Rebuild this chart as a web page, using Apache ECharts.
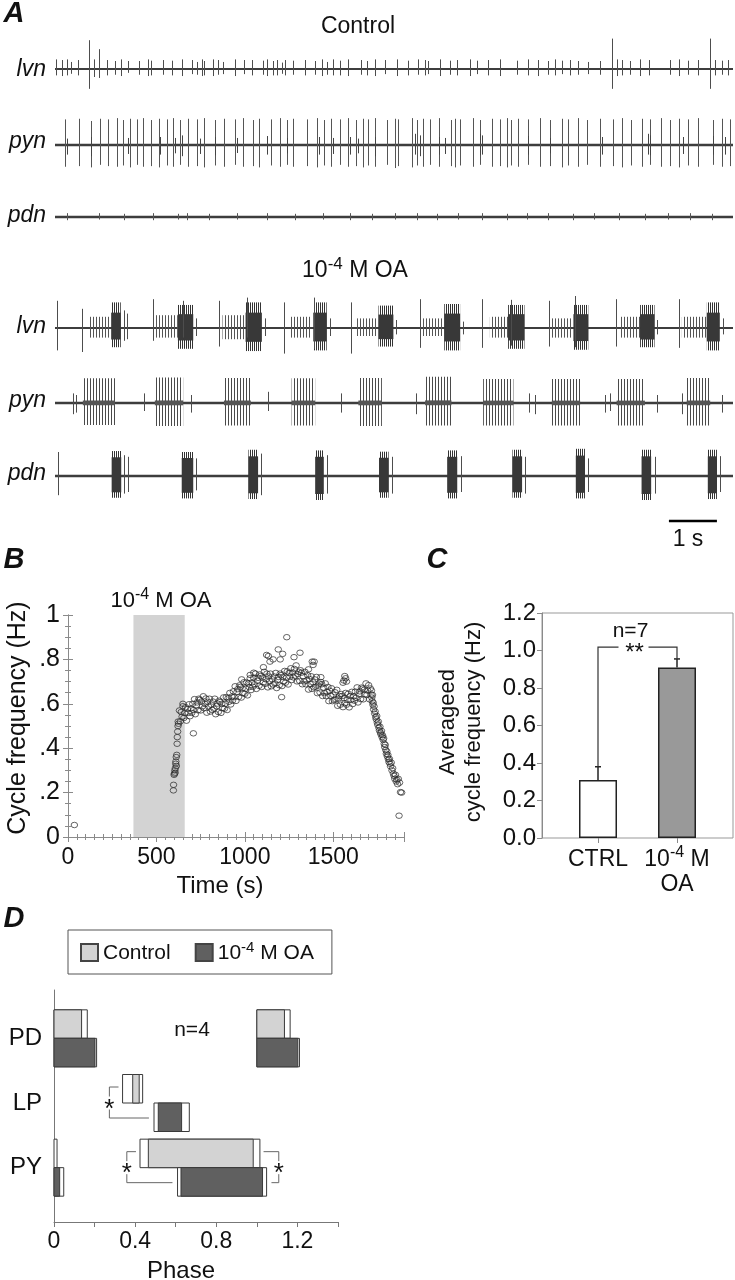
<!DOCTYPE html>
<html><head><meta charset="utf-8">
<script src="https://cdn.jsdelivr.net/npm/echarts@6/dist/echarts.min.js"></script>
<style>html,body{margin:0;padding:0;background:#fff}#c{width:735px;height:1280px}</style>
</head><body><div id="c"></div>
<script>
// ================= DATA =================
// Panel A : time in seconds, amplitudes relative to trace half-height
const traceSpan = [0, 14.125];
const scaleBar = [12.79, 13.79];
const lvnCtrlSpikes = [[0.02,0.30,0.20],[0.14,0.28,0.22],[0.24,0.30,0.20],[0.33,0.22,0.15],[0.47,0.28,0.20],[0.71,0.90,0.62],[0.81,0.30,0.25],[0.92,0.62,0.28],[1.09,0.28,0.20],[1.25,0.25,0.18],[1.38,0.30,0.22],[1.53,0.25,0.12],[1.76,0.25,0.18],[1.94,0.30,0.22],[1.99,0.26,0.20],[2.24,0.28,0.18],[2.43,0.26,0.20],[2.64,0.30,0.22],[2.85,0.28,0.16],[2.95,0.22,0.18],[3.06,0.30,0.22],[3.10,0.25,0.20],[3.30,0.30,0.22],[3.40,0.28,0.18],[3.51,0.22,0.16],[3.74,0.30,0.22],[3.94,0.28,0.16],[4.11,0.28,0.20],[4.34,0.26,0.18],[4.42,0.30,0.22],[4.55,0.25,0.20],[4.62,0.28,0.20],[4.72,0.20,0.15],[4.79,0.28,0.20],[4.95,0.26,0.18],[5.21,0.28,0.20],[5.42,0.25,0.18],[5.56,0.30,0.22],[5.66,0.22,0.18],[5.80,0.30,0.20],[5.94,0.26,0.20],[6.10,0.30,0.22],[6.37,0.28,0.18],[6.49,0.25,0.20],[6.67,0.30,0.22],[6.88,0.28,0.16],[7.13,0.30,0.22],[7.36,0.26,0.20],[7.57,0.30,0.18],[7.71,0.28,0.20],[7.78,0.25,0.16],[8.02,0.30,0.22],[8.23,0.26,0.18],[8.37,0.28,0.20],[8.65,0.30,0.22],[8.80,0.26,0.16],[9.03,0.28,0.20],[9.27,0.30,0.22],[9.62,0.26,0.18],[9.86,0.30,0.20],[10.07,0.28,0.22],[10.28,0.25,0.18],[10.42,0.30,0.20],[10.56,0.26,0.16],[10.73,0.28,0.20],[10.90,0.25,0.18],[11.11,0.22,0.16],[11.35,0.25,0.18],[11.60,0.95,0.62],[11.70,0.30,0.22],[11.81,0.28,0.20],[11.98,0.25,0.18],[12.19,0.30,0.22],[12.38,0.28,0.20],[12.81,0.28,0.18],[12.99,0.30,0.22],[13.19,0.26,0.18],[13.40,0.28,0.20],[13.65,0.95,0.62],[13.75,0.28,0.20],[13.89,0.26,0.18],[14.03,0.28,0.20]];
const pynCtrlSpikes = [[0.21,0.80,0.68],[0.51,0.82,0.66],[0.76,0.75,0.70],[0.94,0.82,0.62],[1.11,0.80,0.66],[1.29,0.84,0.68],[1.41,0.78,0.64],[1.56,0.82,0.70],[1.70,0.80,0.62],[1.84,0.84,0.68],[2.01,0.78,0.66],[2.17,0.82,0.70],[2.33,0.80,0.64],[2.46,0.84,0.68],[2.60,0.78,0.62],[2.78,0.82,0.68],[2.95,0.80,0.66],[3.10,0.84,0.70],[3.33,0.78,0.64],[3.52,0.82,0.68],[3.75,0.80,0.62],[3.92,0.84,0.68],[4.13,0.78,0.66],[4.24,0.82,0.70],[4.51,0.80,0.64],[4.69,0.84,0.68],[4.84,0.78,0.62],[4.96,0.82,0.68],[5.26,0.80,0.66],[5.45,0.84,0.70],[5.60,0.78,0.64],[5.76,0.82,0.68],[5.94,0.80,0.62],[6.11,0.84,0.68],[6.27,0.78,0.66],[6.42,0.82,0.70],[6.53,0.80,0.64],[6.67,0.84,0.68],[6.91,0.78,0.62],[7.08,0.82,0.72],[7.15,0.80,0.66],[7.43,0.84,0.70],[7.54,0.78,0.64],[7.67,0.82,0.68],[7.81,0.80,0.62],[7.99,0.84,0.68],[8.25,0.78,0.66],[8.33,0.82,0.70],[8.44,0.80,0.64],[8.71,0.84,0.68],[8.85,0.78,0.62],[9.10,0.82,0.68],[9.27,0.80,0.66],[9.41,0.84,0.70],[9.51,0.78,0.64],[9.65,0.82,0.68],[9.86,0.80,0.62],[10.10,0.84,0.68],[10.31,0.78,0.66],[10.56,0.82,0.70],[10.69,0.80,0.64],[10.90,0.84,0.68],[11.08,0.78,0.62],[11.35,0.82,0.68],[11.63,0.80,0.66],[11.81,0.84,0.70],[12.01,0.78,0.64],[12.22,0.82,0.68],[12.40,0.80,0.62],[12.63,0.84,0.68],[12.81,0.78,0.66],[12.99,0.82,0.70],[13.19,0.80,0.64],[13.40,0.84,0.68],[13.71,0.78,0.62],[13.89,0.82,0.68],[14.06,0.80,0.66]];
const pynCtrlSmall = [[0.24,0.20,0.30],[0.76,0.25,0.35],[1.53,0.22,0.28],[2.19,0.25,0.30],[2.50,0.22,0.26],[2.64,0.30,0.35],[3.02,0.20,0.28],[3.33,0.25,0.32],[3.79,0.22,0.25],[4.41,0.28,0.30],[4.83,0.22,0.26],[5.49,0.25,0.30],[5.80,0.22,0.28],[6.15,0.25,0.30],[6.32,0.20,0.26],[6.67,0.25,0.35],[7.50,0.35,0.30],[7.60,0.30,0.35],[7.99,0.25,0.30],[8.13,0.22,0.28],[8.85,0.35,0.32],[8.89,0.30,0.30],[9.86,0.28,0.30],[10.31,0.22,0.26],[11.39,0.25,0.30],[12.36,0.35,0.30],[12.40,0.30,0.32],[13.09,0.25,0.28],[13.71,0.28,0.30],[13.96,0.25,0.30]];
const pdnCtrlSpikes = [[0.24,0.12,0.10],[0.91,0.12,0.08],[1.44,0.10,0.10],[2.05,0.12,0.10],[2.57,0.10,0.08],[2.74,0.12,0.10],[3.21,0.10,0.10],[3.80,0.12,0.08],[4.41,0.12,0.10],[5.00,0.10,0.10],[5.59,0.12,0.08],[6.15,0.12,0.10],[6.60,0.10,0.10],[7.08,0.12,0.08],[7.54,0.12,0.10],[7.95,0.10,0.10],[8.40,0.12,0.08],[8.89,0.12,0.10],[9.41,0.10,0.10],[9.83,0.12,0.08],[10.28,0.12,0.10],[10.80,0.10,0.10],[11.22,0.12,0.08],[11.74,0.12,0.10],[12.29,0.10,0.10],[12.78,0.12,0.08],[13.23,0.12,0.10],[13.68,0.10,0.10]];
const lvnOASpikes = [[0.05,0.85,0.70],[0.56,0.60,0.75],[1.44,0.55,0.40],[1.50,0.45,0.35],[2.04,0.90,0.40],[2.66,0.85,0.30],[2.94,0.30,0.25],[3.42,0.85,0.58],[4.01,0.95,0.30],[4.37,0.30,0.25],[4.78,0.80,0.80],[5.40,0.95,0.65],[5.72,0.30,0.25],[6.16,0.80,0.80],[7.10,0.25,0.20],[7.60,0.90,0.62],[8.50,0.20,0.20],[8.90,0.90,0.62],[9.51,0.88,0.55],[10.29,0.85,0.58],[10.83,1.00,0.60],[11.68,0.90,0.58],[12.55,0.25,0.20],[13.00,0.90,0.62],[13.92,0.30,0.20]];
const lvnOATrains = [[0.69,1.15,0.35,0.30],[2.04,2.56,0.40,0.30],[3.49,3.96,0.40,0.35],[4.88,5.35,0.35,0.30],[6.27,6.73,0.30,0.25],[7.64,8.09,0.30,0.25],[9.06,9.44,0.35,0.30],[10.35,10.76,0.30,0.30],[11.77,12.19,0.35,0.30],[13.06,13.58,0.35,0.30]];
const lvnOABursts = [[1.17,1.37,0.80,0.60],[2.56,2.88,0.72,0.65],[3.97,4.31,0.80,0.72],[5.38,5.66,0.80,0.70],[6.74,7.05,0.70,0.58],[8.11,8.44,0.75,0.70],[9.44,9.78,0.72,0.65],[10.80,11.11,0.72,0.68],[12.19,12.49,0.72,0.60],[13.58,13.85,0.80,0.70]];
const pynOASpikes = [[0.37,0.30,0.35],[0.44,0.25,0.30],[1.85,0.30,0.25],[2.83,0.25,0.30],[4.43,0.35,0.25],[5.95,0.30,0.30],[7.53,0.30,0.35],[9.88,0.30,0.30],[10.00,0.25,0.35],[11.46,0.25,0.30],[11.56,0.30,0.25],[12.54,0.25,0.30],[13.06,0.30,0.35],[13.89,0.25,0.30]];
const pynOATrains = [[0.58,1.25,0.77,0.69],[2.08,2.67,0.80,0.72],[3.52,4.08,0.78,0.70],[4.93,5.42,0.77,0.70],[6.32,6.81,0.78,0.72],[7.71,8.26,0.82,0.70],[8.92,9.55,0.75,0.70],[10.35,10.94,0.75,0.70],[11.70,12.29,0.75,0.70],[13.16,13.65,0.78,0.70]];
const pdnOASpikes = [[0.07,0.75,0.60],[1.43,0.65,0.55],[1.52,0.60,0.50],[2.94,0.55,0.45],[4.29,0.70,0.60],[5.66,0.65,0.55],[7.03,0.60,0.55],[8.45,0.62,0.50],[9.79,0.60,0.55],[11.11,0.55,0.50],[12.50,0.60,0.55],[13.85,0.62,0.50]];
const pdnOABursts = [[1.18,1.38,0.78,0.68],[2.64,2.88,0.75,0.70],[4.03,4.23,0.82,0.72],[5.42,5.60,0.80,0.75],[6.75,6.95,0.76,0.68],[8.17,8.38,0.80,0.70],[9.53,9.73,0.82,0.68],[10.85,11.04,0.85,0.70],[12.22,12.42,0.82,0.75],[13.60,13.79,0.82,0.72]];

// Panel B : [time (s), cycle frequency (Hz)]
const bandOA = [370, 660];
const freqPoints = [[36,0.054],
[596,0.21],[597,0.235],[600,0.28],[602,0.285],[604,0.30],[606,0.29],[607,0.31],[609,0.33],[610,0.34],[612,0.36],[613,0.32],[615,0.37],[617,0.42],[618,0.45],[620,0.475],[622,0.50],[623,0.52],[625,0.51],
[630,0.570],[635,0.521],[640,0.563],[645,0.542],[650,0.589],[655,0.536],[660,0.558],[665,0.585],[670,0.524],[675,0.577],[680,0.559],[685,0.598],[690,0.544],[695,0.579],[700,0.559],[705,0.600],[710,0.572],[715,0.621],[720,0.553],[725,0.592],[730,0.606],[735,0.571],[740,0.623],[745,0.618],[750,0.570],[755,0.610],[760,0.588],[765,0.634],[770,0.580],[775,0.599],[780,0.624],[785,0.560],[790,0.609],[795,0.588],[800,0.623],[805,0.565],[810,0.596],[815,0.573],[820,0.610],[825,0.578],[830,0.623],[835,0.553],[840,0.589],[845,0.601],[850,0.563],[855,0.614],[860,0.608],[865,0.559],[870,0.600],[875,0.581],[880,0.629],[885,0.578],[890,0.600],[895,0.630],[900,0.572],[905,0.625],[910,0.609],[915,0.649],[920,0.597],[925,0.632],[930,0.614],[935,0.656],[940,0.630],[945,0.679],[950,0.613],[955,0.652],[960,0.666],[965,0.631],[970,0.683],[975,0.676],[980,0.628],[985,0.669],[990,0.648],[995,0.697],[1000,0.645],[1005,0.668],[1010,0.696],[1015,0.638],[1020,0.692],[1025,0.675],[1030,0.715],[1035,0.662],[1040,0.696],[1045,0.677],[1050,0.717],[1055,0.688],[1060,0.736],[1065,0.667],[1070,0.704],[1075,0.717],[1080,0.681],[1085,0.732],[1090,0.725],[1095,0.676],[1100,0.718],[1105,0.697],[1110,0.744],[1115,0.690],[1120,0.710],[1125,0.736],[1130,0.674],[1135,0.723],[1140,0.702],[1145,0.736],[1150,0.679],[1155,0.710],[1160,0.687],[1165,0.723],[1170,0.692],[1175,0.739],[1180,0.671],[1185,0.708],[1190,0.721],[1195,0.684],[1200,0.736],[1205,0.729],[1210,0.680],[1215,0.721],[1220,0.701],[1225,0.748],[1230,0.695],[1235,0.718],[1240,0.746],[1245,0.687],[1250,0.739],[1255,0.722],[1260,0.760],[1265,0.707],[1270,0.741],[1275,0.719],[1280,0.757],[1285,0.727],[1290,0.773],[1295,0.701],[1300,0.734],[1305,0.744],[1310,0.703],[1315,0.751],[1320,0.740],[1325,0.688],[1330,0.725],[1335,0.701],[1340,0.744],[1345,0.688],[1350,0.705],[1355,0.729],[1360,0.664],[1365,0.712],[1370,0.689],[1375,0.724],[1380,0.667],[1385,0.697],[1390,0.674],[1395,0.710],[1400,0.677],[1405,0.721],[1410,0.648],[1415,0.682],[1420,0.691],[1425,0.651],[1430,0.698],[1435,0.688],[1440,0.635],[1445,0.673],[1450,0.648],[1455,0.692],[1460,0.635],[1465,0.653],[1470,0.676],[1475,0.612],[1480,0.659],[1485,0.637],[1490,0.670],[1495,0.612],[1500,0.641],[1505,0.617],[1510,0.652],[1515,0.620],[1520,0.663],[1525,0.591],[1530,0.624],[1535,0.635],[1540,0.596],[1545,0.644],[1550,0.635],[1555,0.585],[1560,0.625],[1565,0.603],[1570,0.649],[1575,0.596],[1580,0.618],[1585,0.645],[1590,0.584],[1595,0.635],[1600,0.617],[1605,0.654],[1610,0.599],[1615,0.634],[1620,0.614],[1625,0.655],[1630,0.627],[1635,0.674],[1640,0.606],[1645,0.643],[1650,0.656],[1655,0.621],[1660,0.673],[1665,0.668],[1670,0.620],[1675,0.663],[1680,0.643],[1685,0.692],[1690,0.640],[1695,0.659],[1700,0.684],[1705,0.620],[1710,0.669],
[1714,0.642],[1716,0.660],[1718,0.628],[1720,0.612],[1722,0.640],[1724,0.596],[1726,0.605],[1728,0.575],[1731,0.588],[1734,0.556],[1737,0.565],[1740,0.540],[1743,0.530],[1746,0.545],[1749,0.515],[1752,0.505],[1755,0.520],[1758,0.492],[1761,0.480],[1764,0.497],[1767,0.470],[1770,0.462],[1773,0.478],[1776,0.450],[1779,0.458],[1782,0.438],[1785,0.445],[1788,0.420],[1791,0.405],[1794,0.415],[1797,0.392],[1800,0.375],[1803,0.385],[1806,0.362],[1809,0.370],[1812,0.350],[1815,0.338],[1818,0.352],[1821,0.330],[1824,0.318],[1828,0.335],[1832,0.300],[1836,0.310],[1840,0.285],[1844,0.275],[1848,0.262],[1852,0.280],[1856,0.250],[1860,0.258],[1864,0.238],[1868,0.262],[1872,0.096],[1875,0.245],[1880,0.202],[1887,0.200],
[1105,0.765],[1123,0.820],[1133,0.815],[1142,0.790],[1160,0.800],[1189,0.845],[1200,0.800],[1214,0.825],[1237,0.900],[1278,0.810],[1312,0.830],[1381,0.790],[1386,0.775],[1392,0.790],[1208,0.630],[709,0.467],[982,0.710],[1555,0.695],[1560,0.705],[1565,0.725],[1570,0.715],[1575,0.700],[1050,0.740],[1030,0.730],[1360,0.755],[1430,0.720],[650,0.600]];

// Panel C
const cCategories = ['CTRL', 'OA'];
const cMeans = [0.31, 0.91];
const cErrTop = [0.38, 0.955];
const cSigLevel = 1.018;
const cNText = 'n=7';
const cSigText = '**';

// Panel D : [on phase, on SE, off phase, off SE]
const dNeurons = ['PD', 'LP', 'PY'];
const dControl = [[0, 0, 0.136, 0.028], [0.388, 0.050, 0.420, 0.017], [0.465, 0.041, 0.982, 0.033]];
const dOA = [[0, 0, 0.202, 0.008], [0.514, 0.021, 0.629, 0.038], [0.626, 0.017, 1.028, 0.020]];
const dCycleCopies = [[0, 1], [0], [0, -1]];
const dSig = [[1, 'on'], [2, 'on'], [2, 'off']];
const dTickLabels = ['0', '0.4', '0.8', '1.2'];
const dNText = 'n=4';

// ================= RENDERING =================
const FONT = '"Liberation Sans", Arial, Helvetica, sans-serif';
const chart = echarts.init(document.getElementById('c'), null, {renderer: 'canvas', width: 735, height: 1280});

function stripes(period, color) {
  const c = document.createElement('canvas');
  c.width = period; c.height = 2;
  const g = c.getContext('2d');
  g.fillStyle = color; g.fillRect(0, 0, 1, 2);
  return {image: c, repeat: 'repeat'};
}
const pat2 = stripes(2, '#333');
const pat3 = stripes(3, '#4a4a4a');
const pat3b = stripes(3, '#555');

const grids = [];
[37, 113, 185, 296, 371, 444].forEach(t => grids.push({left: 55, top: t, width: 678, height: 64}));
grids.push({left: 55, top: 511, width: 678, height: 20});               // 6 scale bar
grids.push({left: 68, top: 615, width: 336, height: 222});              // 7 B
grids.push({left: 542, top: 613, width: 191, height: 225, show: true, borderColor: '#999', borderWidth: 1}); // 8 C frame
grids.push({left: 558.5, top: 613, width: 158, height: 225});           // 9 C data
grids.push({left: 54, top: 990, width: 284, height: 232});              // 10 D frame
grids.push({left: 54, top: 1006, width: 284, height: 194});             // 11 D data
grids.forEach(g => { g.outerBoundsMode = 'none'; g.containLabel = false; });

// superscript rich styles: the small token gets bottom padding and everything is bottom-aligned, so it rides high
const supStyles = (n, s, col) => ({
  n: {fontSize: n, fontFamily: FONT, fill: col, color: col, verticalAlign: 'bottom', lineHeight: n + 2},
  s: {fontSize: s, fontFamily: FONT, fill: col, color: col, verticalAlign: 'bottom', lineHeight: s, padding: [0, 0, Math.round(n * 0.42), 0]}
});

const gray = '#8a8a8a';
const xAxes = [], yAxes = [];
for (let i = 0; i < 7; i++) {
  xAxes.push({gridIndex: i, type: 'value', min: traceSpan[0], max: traceSpan[1], show: false});
  yAxes.push({gridIndex: i, type: 'value', min: -1, max: 1, show: false});
}
// 7: B bottom
xAxes.push({gridIndex: 7, type: 'value', min: 0, max: 1900, interval: 500,
  axisLine: {show: true, lineStyle: {color: gray}}, axisTick: {show: true, inside: true, length: 5, lineStyle: {color: gray}},
  minorTick: {show: true, splitNumber: 10, length: 3, lineStyle: {color: gray}}, splitLine: {show: false}, minorSplitLine: {show: false},
  axisLabel: {fontSize: 23, color: '#111', fontFamily: FONT, margin: 9, showMaxLabel: false, formatter: v => String(Math.round(v))}});
yAxes.push({gridIndex: 7, type: 'value', min: 0, max: 1, interval: 0.2,
  axisLine: {show: true, lineStyle: {color: gray}}, axisTick: {show: true, inside: true, length: 5, lineStyle: {color: gray}},
  minorTick: {show: true, splitNumber: 4, length: 3, lineStyle: {color: gray}}, splitLine: {show: false}, minorSplitLine: {show: false},
  axisLabel: {fontSize: 25, color: '#111', fontFamily: FONT, margin: 8,
    formatter: v => v === 0 ? '0' : (v >= 1 ? '1' : v.toFixed(1).slice(1))}});
// 8: C frame
xAxes.push({gridIndex: 8, type: 'value', min: 0, max: 1, show: false});
yAxes.push({gridIndex: 8, type: 'value', min: 0, max: 1.2, interval: 0.2,
  axisLine: {show: true, lineStyle: {color: gray}}, axisTick: {show: true, length: 5, lineStyle: {color: gray}}, splitLine: {show: false},
  axisLabel: {fontSize: 24, color: '#111', fontFamily: FONT, margin: 6, formatter: v => v.toFixed(1)}});
// 9: C data
xAxes.push({gridIndex: 9, type: 'category', data: cCategories,
  axisLine: {show: false}, axisTick: {show: true, alignWithLabel: true, length: 5, lineStyle: {color: gray}},
  axisLabel: {margin: 8, interval: 0, color: '#111',
    formatter: v => v === 'OA' ? '{n|10}{s|-4}{n| M}\n{n|OA}' : '{n|CTRL}',
    rich: supStyles(23, 16, '#111')}});
yAxes.push({gridIndex: 9, type: 'value', min: 0, max: 1.2, show: false});
// 10: D frame
xAxes.push({gridIndex: 10, type: 'value', min: 0, max: 1.4, interval: 0.2,
  axisLine: {show: true, lineStyle: {color: '#777'}}, axisTick: {show: true, length: 5, lineStyle: {color: '#777'}}, splitLine: {show: false},
  axisLabel: {fontSize: 23, color: '#111', fontFamily: FONT, margin: 8,
    formatter: v => { const s = String(Math.round(v * 10) / 10); return dTickLabels.includes(s) ? s : ''; }}});
yAxes.push({gridIndex: 10, type: 'value', min: 0, max: 1, axisLine: {show: true, lineStyle: {color: '#777'}},
  axisTick: {show: false}, axisLabel: {show: false}, splitLine: {show: false}});
// 11: D data
xAxes.push({gridIndex: 11, type: 'value', min: 0, max: 1.4, show: false});
yAxes.push({gridIndex: 11, type: 'category', data: dNeurons, inverse: true,
  axisLine: {show: false}, axisTick: {show: false},
  axisLabel: {fontSize: 24, color: '#111', fontFamily: FONT, margin: 12}});
// 12: B top, B right
xAxes.push({gridIndex: 7, type: 'value', position: 'top', min: 0, max: 1900, interval: 500,
  axisLine: {show: true, lineStyle: {color: gray}}, axisTick: {show: true, inside: true, length: 5, lineStyle: {color: gray}},
  minorTick: {show: true, splitNumber: 10, length: 3, lineStyle: {color: gray}}, splitLine: {show: false}, axisLabel: {show: false}});
yAxes.push({gridIndex: 7, type: 'value', position: 'right', min: 0, max: 1, interval: 0.2,
  axisLine: {show: true, lineStyle: {color: gray}}, axisTick: {show: true, inside: true, length: 5, lineStyle: {color: gray}},
  minorTick: {show: true, splitNumber: 4, length: 3, lineStyle: {color: gray}}, splitLine: {show: false}, axisLabel: {show: false}});

// ---- series helpers ----
function baseline(i, w) {
  return {type: 'line', xAxisIndex: i, yAxisIndex: i, data: [[traceSpan[0], 0], [traceSpan[1], 0]], symbol: 'none',
    lineStyle: {color: '#3d3d3d', width: w}, silent: true, z: 3, animation: false};
}
function spikes(i, data, color) {
  return {type: 'custom', xAxisIndex: i, yAxisIndex: i, data, silent: true, z: 4, animation: false,
    renderItem(p, api) {
      const t = api.value(0), a = api.coord([t, api.value(1)]), b = api.coord([t, -api.value(2)]);
      const x = Math.round(a[0]) + 0.5;
      return {type: 'line', shape: {x1: x, y1: a[1], x2: x, y2: b[1]}, style: {stroke: color, lineWidth: 1}};
    }};
}
function blocks(i, data, pattern, core, coreColor) {
  return {type: 'custom', xAxisIndex: i, yAxisIndex: i, data, silent: true, z: 4, animation: false,
    renderItem(p, api) {
      const s = api.value(0), e = api.value(1), up = api.value(2), dn = api.value(3);
      const a = api.coord([s, up]), b = api.coord([e, -dn]);
      const ch = [{type: 'rect', shape: {x: a[0], y: a[1], width: b[0] - a[0], height: b[1] - a[1]}, style: {fill: pattern}}];
      if (core > 0) {
        const c1 = api.coord([s, up * core]), c2 = api.coord([e, -dn * core]);
        ch.push({type: 'rect', shape: {x: c1[0], y: c1[1], width: c2[0] - c1[0], height: c2[1] - c1[1]}, style: {fill: coreColor}});
      }
      return {type: 'group', children: ch};
    }};
}

const series = [];
// Panel A control
series.push(baseline(0, 2), spikes(0, lvnCtrlSpikes, '#4d4d4d'));
series.push(baseline(1, 2.4), spikes(1, pynCtrlSpikes, '#555'), spikes(1, pynCtrlSmall, '#444'));
series.push(baseline(2, 2.4), spikes(2, pdnCtrlSpikes, '#555'));
// Panel A OA
series.push(baseline(3, 2.2), blocks(3, lvnOATrains, pat3b, 0, null), blocks(3, lvnOABursts, pat2, 0.6, '#383838'), spikes(3, lvnOASpikes, '#4d4d4d'));
series.push(baseline(4, 2.4), blocks(4, pynOATrains, pat3, 0.1, '#555'), spikes(4, pynOASpikes, '#4d4d4d'));
series.push(baseline(5, 2.4), blocks(5, pdnOABursts, pat2, 0.75, '#383838'), spikes(5, pdnOASpikes, '#4d4d4d'));
// scale bar
series.push({type: 'line', xAxisIndex: 6, yAxisIndex: 6, data: scaleBar.map(t => [t, 0]), symbol: 'none',
  lineStyle: {color: '#000', width: 2.5}, silent: true, animation: false});

// Panel B
series.push({type: 'scatter', xAxisIndex: 7, yAxisIndex: 7, data: freqPoints, symbol: 'circle', symbolSize: [6.5, 5.5],
  itemStyle: {color: 'rgba(0,0,0,0)', borderColor: '#2a2a2a', borderWidth: 0.9}, silent: true, animation: false, z: 5,
  markArea: {silent: true, itemStyle: {color: '#d3d3d3'}, label: {show: false}, data: [[{xAxis: bandOA[0]}, {xAxis: bandOA[1]}]]}});

// Panel C
series.push({type: 'bar', name: 'cbar', xAxisIndex: 9, yAxisIndex: 9, barWidth: 38, silent: true, animation: false,
  data: cMeans.map((v, i) => ({value: v, itemStyle: {color: i === 0 ? '#ffffff' : '#999999', borderColor: '#222', borderWidth: 1.5}}))});
series.push({type: 'custom', xAxisIndex: 9, yAxisIndex: 9, silent: true, animation: false, z: 6,
  data: cMeans.map((v, i) => [i, v, cErrTop[i]]),
  renderItem(p, api) {
    const i = api.value(0), a = api.coord([i, api.value(1)]), b = api.coord([i, api.value(2)]);
    const st = {stroke: '#222', lineWidth: 1.5};
    return {type: 'group', children: [
      {type: 'line', shape: {x1: a[0], y1: a[1], x2: b[0], y2: b[1]}, style: st},
      {type: 'line', shape: {x1: b[0] - 3, y1: b[1], x2: b[0] + 3, y2: b[1]}, style: st}]};
  }});
series.push({type: 'custom', xAxisIndex: 9, yAxisIndex: 9, silent: true, animation: false, z: 6, data: [[0]],
  renderItem(p, api) {
    const a = api.coord([0, cErrTop[0]]), b = api.coord([1, cErrTop[1]]), ly = api.coord([0, cSigLevel])[1];
    const mid = (a[0] + b[0]) / 2 - 3, st = {stroke: '#333', lineWidth: 1.2, fill: null};
    return {type: 'group', children: [
      {type: 'polyline', shape: {points: [[a[0], a[1]], [a[0], ly], [mid - 16, ly]]}, style: st},
      {type: 'polyline', shape: {points: [[mid + 14, ly], [b[0], ly], [b[0], b[1]]]}, style: st},
      {type: 'text', x: mid, y: ly + 6, style: {text: cSigText, fontSize: 24, fontFamily: FONT, fill: '#111', align: 'center', verticalAlign: 'middle', textAlign: 'center', textVerticalAlign: 'middle'}},
      {type: 'text', x: mid - 4, y: ly - 16, style: {text: cNText, fontSize: 21, fontFamily: FONT, fill: '#111', align: 'center', verticalAlign: 'middle', textAlign: 'center', textVerticalAlign: 'middle'}}]};
  }});

// Panel D
function phaseSeries(name, rows, fill, above) {
  return {type: 'custom', name, xAxisIndex: 11, yAxisIndex: 11, silent: true, animation: false, z: 5,
    itemStyle: {color: fill, borderColor: '#444', borderWidth: 1},
    data: rows.map((r, i) => [i].concat(r)),
    renderItem(p, api) {
      const i = api.value(0), on = api.value(1), onSE = api.value(2), off = api.value(3), offSE = api.value(4);
      const cy = api.coord([0, i])[1], h = 28.5, y0 = above ? cy - h : cy;
      const ch = [];
      const seg = (a, b, f) => {
        a = Math.max(a, 0); b = Math.min(b, 1.4);
        if (b <= a) return;
        const pa = api.coord([a, i]), pb = api.coord([b, i]);
        ch.push({type: 'rect', shape: {x: pa[0], y: y0, width: pb[0] - pa[0], height: h}, style: {fill: f, stroke: '#3a3a3a', lineWidth: 1}});
      };
      dCycleCopies[i].forEach(k => { seg(on - onSE + k, off + offSE + k, '#ffffff'); seg(on + k, off + k, fill); });
      return {type: 'group', children: ch};
    }};
}
series.push(phaseSeries('Control', dControl, '#d3d3d3', true));
series.push(phaseSeries('OA', dOA, '#606060', false));
series.push({type: 'custom', xAxisIndex: 11, yAxisIndex: 11, silent: true, animation: false, z: 6,
  data: dSig.map(s => [s[0], s[1] === 'on' ? 0 : 1]),
  renderItem(p, api) {
    const i = api.value(0), side = api.value(1), c = dControl[i], o = dOA[i];
    const yc = api.coord([0, i])[1], yT = yc - 16, yB = yc + 15, ym = (yT + yB) / 2;
    let xb, xt, xo;
    if (side === 0) { const cl = c[0] - c[1], ol = o[0] - o[1]; xb = Math.min(cl, ol) - 0.065; xt = cl - 0.02; xo = ol - 0.025; }
    else { const cr = c[2] + c[3], orr = o[2] + o[3]; xb = Math.max(cr, orr) + 0.06; xt = cr + 0.018; xo = orr + 0.024; }
    const X = v => api.coord([v, i])[0], st = {stroke: '#666', lineWidth: 1, fill: null};
    return {type: 'group', children: [
      {type: 'polyline', shape: {points: [[X(xt), yT], [X(xb), yT], [X(xb), ym - 6]]}, style: st},
      {type: 'polyline', shape: {points: [[X(xb), ym + 7], [X(xb), yB], [X(xo), yB]]}, style: st},
      {type: 'text', x: X(xb), y: ym + 7, style: {text: '*', fontSize: 26, fontFamily: FONT, fill: '#111', align: 'center', verticalAlign: 'middle', textAlign: 'center', textVerticalAlign: 'middle'}}]};
  }});

// ---- text annotations ----
function T(text, x, y, size, extra, rot) {
  const st = Object.assign({text, fontSize: size, fontFamily: FONT, fill: '#111', align: 'center', verticalAlign: 'middle', textAlign: 'center', textVerticalAlign: 'middle'}, extra || {});
  const el = {type: 'text', x, y, silent: true, style: st};
  if (rot) el.rotation = rot;
  return el;
}
const bi = {fontWeight: 'bold', fontStyle: 'italic'};
const it = {fontStyle: 'italic', align: 'right', textAlign: 'right'};
const gEls = [
  T('A', 14, 14, 29, bi),
  T('Control', 358, 27, 23),
  T('{n|10}{s|-4}{n| M OA}', 355, 270, 23, {rich: supStyles(23, 17, '#111')}),
  T('lvn', 46, 70, 23, it), T('pyn', 46, 142, 23, it), T('pdn', 46, 216, 23, it),
  T('lvn', 46, 327, 23, it), T('pyn', 46, 401, 23, it), T('pdn', 46, 474, 23, it),
  T('1 s', 688, 540, 23),
  T('B', 14, 560, 29, bi),
  T('{n|10}{s|-4}{n| M OA}', 161, 600, 22, {rich: supStyles(22, 16, '#111')}),
  T('Cycle frequency (Hz)', 18, 718, 25, null, Math.PI / 2),
  T('Time (s)', 220, 886, 24),
  T('C', 437, 560, 29, bi),
  T('Averageed\ncycle frequency (Hz)', 461, 722, 22, {lineHeight: 26}, Math.PI / 2),
  T('D', 14, 919, 29, bi),
  T(dNText, 192, 1030, 21),
  T('Phase', 181, 1271, 24)
];

chart.setOption({
  animation: false,
  backgroundColor: '#fff',
  grid: grids, xAxis: xAxes, yAxis: yAxes, series,
  legend: {data: ['Control', 'OA'], left: 68, top: 930, padding: [10, 18, 10, 12], itemWidth: 17, itemHeight: 17, itemGap: 24,
    borderColor: '#555', borderWidth: 1, borderRadius: 0, selectedMode: false, icon: 'rect',
    textStyle: {fontSize: 21, color: '#111', fontFamily: FONT, rich: supStyles(21, 15, '#111')},
    formatter: n => n === 'OA' ? '{n|10}{s|-4}{n| M OA}' : '{n|Control}'},
  graphic: {elements: gEls}
});
</script></body></html>
